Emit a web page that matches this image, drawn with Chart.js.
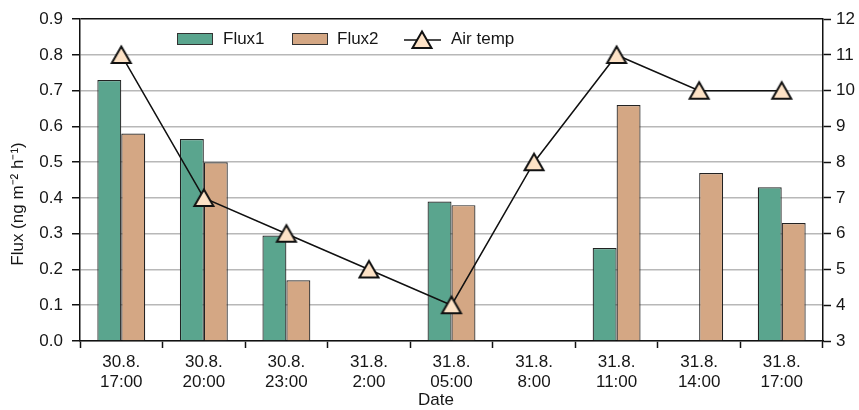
<!DOCTYPE html>
<html lang="en">
<head>
    <meta charset="UTF-8">
    <title>Flux and air temperature</title>
    <script src="https://cdn.jsdelivr.net/npm/chart.js"></script>
    <style>
        body {
            margin: 0;
            background: #fff;
        }
    </style>
</head>
<body>

    <canvas id="fluxChart" width="859" height="410"></canvas>

    <script>
        const dates = [
            ['30.8.', '17:00'], ['30.8.', '20:00'], ['30.8.', '23:00'],
            ['31.8.', '2:00'], ['31.8.', '05:00'], ['31.8.', '8:00'],
            ['31.8.', '11:00'], ['31.8.', '14:00'], ['31.8.', '17:00']
        ];
        const flux1 = [0.73, 0.565, 0.295, null, 0.39, null, 0.26, null, 0.43];
        const flux2 = [0.58, 0.50, 0.17, null, 0.38, null, 0.66, 0.47, 0.33];
        const airTemp = [11, 7, 6, 5, 4, 8, 11, 10, 10];

        const green = '#5aa58e';
        const tan = '#d4a784';
        const peach = '#fde2c6';
        const ink = '#161616';
        const font = "'Liberation Sans', Arial, sans-serif";

        // triangle marker, drawn once and used for the points and the legend
        const marker = document.createElement('canvas');
        marker.width = 26;
        marker.height = 24;
        (function () {
            const m = marker.getContext('2d');
            m.beginPath();
            m.moveTo(13, 3.5);
            m.lineTo(22.5, 20);
            m.lineTo(3.5, 20);
            m.closePath();
            m.fillStyle = peach;
            m.fill();
            m.lineWidth = 2;
            m.strokeStyle = '#111';
            m.stroke();
        })();

        // legend inside the plot plus the two axis titles
        const extras = {
            id: 'extras',
            afterDraw(chart) {
                const ctx = chart.ctx;
                const y = 39;
                ctx.save();
                ctx.font = '17px ' + font;
                ctx.textBaseline = 'middle';
                ctx.lineWidth = 1;
                ctx.strokeStyle = '#333';

                ctx.fillStyle = green;
                ctx.fillRect(177, 33, 36, 12);
                ctx.strokeRect(177.5, 33.5, 35, 11);
                ctx.fillStyle = ink;
                ctx.fillText('Flux1', 223, y);

                ctx.fillStyle = tan;
                ctx.fillRect(292, 33, 36, 12);
                ctx.strokeRect(292.5, 33.5, 35, 11);
                ctx.fillStyle = ink;
                ctx.fillText('Flux2', 337, y);

                ctx.beginPath();
                ctx.moveTo(404, y + 1);
                ctx.lineTo(441, y + 1);
                ctx.lineWidth = 1.5;
                ctx.strokeStyle = '#111';
                ctx.stroke();
                ctx.drawImage(marker, 422 - 13, y + 1 - 12);
                ctx.fillStyle = ink;
                ctx.fillText('Air temp', 451, y);

                // axis titles
                ctx.textAlign = 'center';
                ctx.fillText('Date', 436, 400);
                ctx.translate(18, 204);
                ctx.rotate(-Math.PI / 2);
                ctx.fillText('Flux (ng m⁻² h⁻¹)', 0, 0);
                ctx.restore();
            }
        };

        const ctx = document.getElementById('fluxChart').getContext('2d');
        Chart.defaults.font.family = font;
        Chart.defaults.color = ink;

        new Chart(ctx, {
            type: 'bar',
            data: {
                labels: dates,
                datasets: [{
                    label: 'Air temp',
                    type: 'line',
                    data: airTemp,
                    yAxisID: 'y2',
                    order: 0,
                    borderColor: '#111',
                    borderWidth: 1.5,
                    tension: 0,
                    pointStyle: marker,
                    pointRadius: 11
                }, {
                    label: 'Flux1',
                    data: flux1,
                    yAxisID: 'y',
                    order: 1,
                    backgroundColor: green,
                    borderColor: '#222',
                    borderWidth: 1.2
                }, {
                    label: 'Flux2',
                    data: flux2,
                    yAxisID: 'y',
                    order: 1,
                    backgroundColor: tan,
                    borderColor: '#222',
                    borderWidth: 1.2
                }]
            },
            options: {
                responsive: false,
                animation: false,
                layout: { padding: { top: 19 } },
                datasets: {
                    bar: { categoryPercentage: 0.58, barPercentage: 1.0 }
                },
                plugins: {
                    legend: { display: false },
                    tooltip: { enabled: false }
                },
                scales: {
                    x: {
                        afterFit(scale) { scale.height = 69; },
                        grid: {
                            offset: true,
                            drawOnChartArea: false,
                            tickLength: 7,
                            tickColor: '#111',
                            tickWidth: 1.5
                        },
                        border: { color: '#111', width: 1.5 },
                        ticks: {
                            font: { size: 17, lineHeight: 1.18 },
                            padding: 4,
                            maxRotation: 0
                        }
                    },
                    y: {
                        position: 'left',
                        min: 0,
                        max: 0.9,
                        afterFit(scale) { scale.width = 80; },
                        ticks: {
                            stepSize: 0.1,
                            padding: 9,
                            font: { size: 17 },
                            callback: v => v.toFixed(1)
                        },
                        grid: {
                            color: c => (c.tick && Math.abs(c.tick.value - 0.9) < 1e-6) ? '#111' : '#b8b8b8',
                            lineWidth: 1.5,
                            tickLength: 8,
                            tickColor: '#111',
                            tickWidth: 1.5
                        },
                        border: { color: '#111', width: 1.5 }
                    },
                    y2: {
                        position: 'right',
                        min: 3,
                        max: 12,
                        afterFit(scale) { scale.width = 36; },
                        ticks: {
                            stepSize: 1,
                            padding: 5,
                            font: { size: 17 }
                        },
                        grid: {
                            drawOnChartArea: false,
                            tickLength: 8,
                            tickColor: '#111',
                            tickWidth: 1.5
                        },
                        border: { color: '#111', width: 1.5 }
                    }
                }
            },
            plugins: [extras]
        });
    </script>

</body>
</html>
